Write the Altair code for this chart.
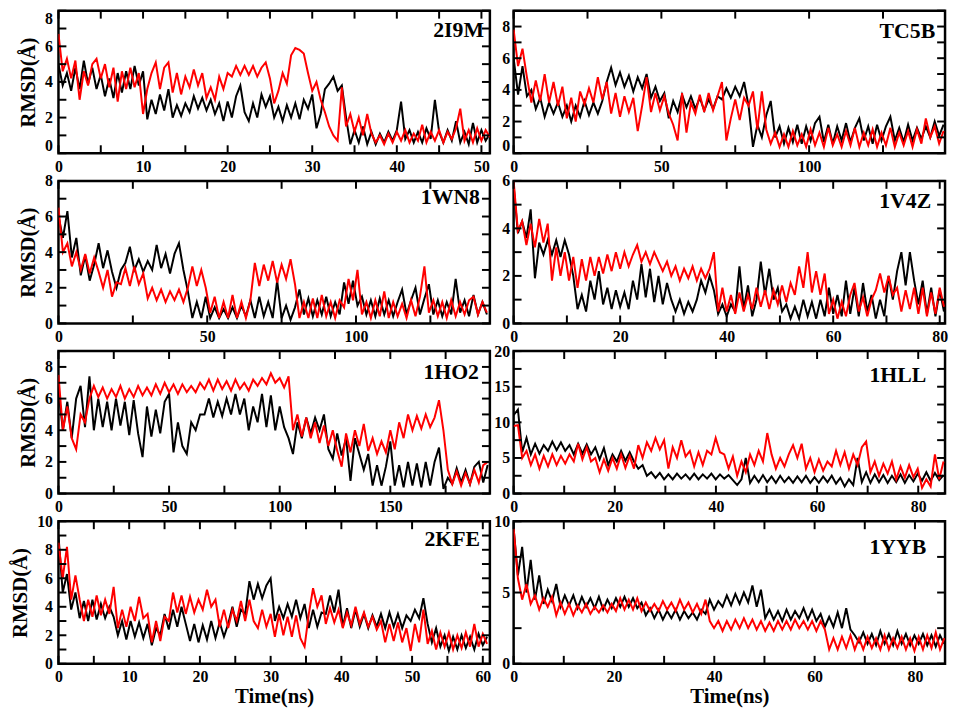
import altair as alt
import numpy as np
import pandas as pd

FONT = "Liberation Serif"

# ---------------- data (RMSD in Angstrom) ----------------
p2i9m_black = [5.0,3.8,4.5,3.5,4.8,3.6,5.2,3.9,4.8,3.6,
               4.4,3.2,4.2,3.1,4.5,3.4,4.6,3.6,4.9,3.8,
               4.6,1.9,3.0,2.2,3.3,2.4,3.6,2.0,2.7,2.1,
               2.8,2.3,3.2,2.5,3.1,2.4,3.0,2.2,2.8,1.8,
               2.9,2.0,3.2,3.8,2.3,1.8,2.8,2.0,3.3,2.6,
               3.2,2.0,2.6,1.8,2.7,2.0,2.8,1.9,3.0,2.5,
               3.3,1.4,2.2,3.6,3.9,4.3,3.5,3.8,2.0,0.5,
               1.3,0.6,1.5,0.5,1.2,0.5,1.1,0.6,1.2,0.7,
               1.3,2.9,0.8,1.3,0.6,1.2,0.6,1.4,0.8,3.0,
               1.2,0.6,1.3,0.7,1.8,0.6,1.2,0.5,1.7,0.6,
               1.3,0.7,1.1]
p2i9m_red = [6.7,4.6,5.3,4.2,5.2,3.0,4.6,3.8,5.0,5.3,
             4.2,5.0,3.7,4.8,2.9,4.6,3.6,4.8,3.7,4.5,
             2.2,3.6,4.5,5.1,3.6,4.8,5.1,3.4,4.5,3.3,
             4.3,3.7,4.7,3.8,4.5,3.1,3.7,3.0,4.3,3.6,
             4.5,4.3,4.9,4.4,4.9,4.4,4.9,4.3,4.8,5.1,
             4.2,2.8,3.5,4.5,3.9,5.5,5.9,5.8,5.6,4.5,
             3.5,4.0,3.0,2.3,1.5,1.0,0.7,3.7,1.5,2.2,
             1.2,2.0,1.0,2.2,1.1,0.6,1.0,0.5,1.1,0.6,
             1.2,0.7,1.3,0.6,1.1,0.7,1.6,0.6,1.2,0.7,
             1.3,0.6,1.2,0.8,1.4,2.5,0.7,1.3,0.6,1.4,
             0.7,1.3,0.9]

tc5b_black = [6.0,3.7,5.5,3.6,4.0,2.8,3.5,2.3,3.2,2.5,
              3.2,2.3,3.0,2.0,3.0,2.3,3.3,2.4,3.2,2.5,
              3.3,4.5,5.4,4.3,5.1,4.2,4.9,3.9,4.8,4.1,
              5.0,3.5,4.2,3.3,3.8,2.2,3.3,2.6,3.7,2.9,
              3.6,2.8,3.5,2.7,3.4,2.8,3.6,3.4,4.1,3.5,
              4.2,3.6,4.5,3.0,0.4,1.8,1.0,2.4,3.3,1.0,
              1.7,0.6,1.6,0.7,1.8,0.6,1.7,0.8,1.9,2.3,
              0.7,1.8,0.6,1.7,0.8,1.9,0.7,1.6,2.2,0.8,
              1.7,0.6,1.8,0.8,1.7,2.3,0.8,1.6,0.7,1.8,
              0.8,1.6,0.9,1.7,1.0,2.0,1.1,1.8]
tc5b_red = [7.8,5.5,6.6,4.8,3.2,4.6,3.3,5.0,3.2,4.5,
            3.0,4.2,2.2,3.5,2.0,3.9,3.1,4.1,3.2,4.8,
            3.4,4.5,2.5,3.8,2.3,3.6,2.6,3.5,1.4,3.0,
            4.8,2.6,3.8,2.7,3.6,2.5,1.8,0.8,3.8,1.3,
            3.2,2.5,3.7,2.6,3.8,2.7,3.6,4.5,0.8,2.2,
            3.4,2.1,3.5,3.0,3.9,1.5,3.9,1.5,0.6,1.3,
            0.4,1.2,0.4,1.4,0.5,1.2,0.4,1.5,0.5,1.3,
            0.4,1.6,0.5,1.2,0.4,1.4,0.5,1.6,0.4,1.3,
            0.5,1.5,0.4,1.3,0.5,1.6,0.4,1.3,0.5,1.4,
            0.4,1.5,0.6,2.2,1.0,1.7,0.6,1.4]

p1wn8_black = [6.0,4.8,6.3,3.7,4.8,2.7,3.8,2.4,3.3,4.5,
               3.1,4.1,2.9,2.0,3.0,3.4,4.3,3.0,3.6,2.9,
               3.5,3.0,4.4,3.1,3.9,2.8,3.9,4.5,3.0,1.8,
               0.3,1.2,0.3,1.5,0.3,0.9,0.3,0.8,0.3,0.9,
               0.3,1.0,0.4,1.3,0.3,1.5,0.4,1.2,0.3,2.4,
               0.3,1.0,0.2,0.9,1.9,0.5,1.4,0.4,1.3,0.5,
               1.5,0.4,1.2,0.5,2.3,1.1,2.4,1.0,1.5,0.5,
               1.3,0.4,1.4,0.5,1.3,0.4,1.2,1.9,0.5,1.3,
               2.0,0.5,1.4,2.2,0.5,1.3,0.4,1.2,0.5,2.5,
               0.6,1.3,0.4,1.6,0.5,1.2,0.5]
p1wn8_red = [6.5,4.0,4.5,3.2,4.0,3.0,3.9,2.8,3.7,2.9,
             2.0,3.0,1.5,2.3,2.2,3.1,2.1,3.2,2.2,2.8,
             1.4,2.0,1.3,1.9,1.2,1.8,1.3,1.9,1.2,2.0,
             3.2,2.1,3.0,2.0,0.6,1.5,0.3,1.2,0.3,1.6,
             0.3,1.2,0.3,1.3,3.4,2.1,3.3,2.4,3.5,2.3,
             3.3,2.5,3.6,2.2,0.3,1.2,0.3,1.4,0.3,1.6,
             0.4,1.2,0.3,1.3,0.9,2.5,1.3,3.0,0.5,1.2,
             0.3,1.3,0.4,1.8,0.3,1.2,0.4,1.1,0.3,1.3,
             0.4,1.5,3.2,0.6,1.3,0.4,1.2,0.3,1.3,0.4,
             1.2,0.5,1.3,1.5,0.5,1.2,0.6]

p1v4z_black = [5.8,3.8,4.3,3.6,4.8,1.9,3.4,2.9,3.5,2.9,
               3.5,2.8,3.5,2.9,2.0,0.6,1.2,0.5,1.8,1.0,
               2.2,0.8,1.5,0.6,1.4,0.7,1.3,0.6,1.8,1.0,
               2.5,1.1,2.3,0.9,2.0,0.8,1.7,1.0,0.5,1.0,
               0.4,0.9,0.5,1.0,1.8,1.3,2.0,1.4,0.4,0.8,
               0.3,0.8,0.5,2.4,0.6,1.6,0.3,1.0,2.6,1.2,
               2.3,1.0,1.5,0.5,0.8,0.2,0.7,0.2,1.0,0.3,
               0.9,0.2,1.0,0.3,1.5,0.4,1.2,0.3,1.8,0.4,
               1.5,0.3,1.7,0.5,1.2,0.2,1.0,0.3,2.0,1.0,
               2.2,3.0,1.6,3.0,1.8,0.8,1.8,0.4,1.5,0.3,
               1.4,0.5]
p1v4z_red = [6.0,3.9,4.3,3.3,4.2,3.2,4.4,3.4,4.2,1.8,
             3.2,2.0,3.0,1.8,2.8,1.5,2.7,1.8,2.8,2.0,
             2.8,2.1,2.9,2.2,3.0,2.3,3.0,2.4,2.9,3.3,
             2.6,3.0,2.5,3.0,2.6,2.2,2.6,2.0,2.4,1.8,
             2.3,1.9,2.4,1.8,2.3,1.9,2.3,3.0,0.5,1.5,
             0.5,1.2,0.4,1.3,0.5,1.2,0.6,1.5,0.7,1.4,
             0.6,1.4,0.8,1.6,0.9,1.7,1.2,2.4,1.5,3.0,
             1.3,2.2,1.2,2.1,0.4,1.0,0.2,0.9,0.3,1.2,
             1.7,0.5,1.1,0.3,1.0,1.4,2.1,1.3,2.0,1.2,
             1.5,0.5,1.4,0.6,1.5,0.4,1.5,0.3,1.3,0.4,
             1.5,0.7]

p1ho2_black = [6.5,4.0,5.8,3.5,6.0,6.8,4.2,7.4,4.0,6.0,
               4.2,5.8,4.0,6.0,4.3,5.8,3.7,5.9,3.8,2.3,
               5.5,3.6,5.3,3.8,5.8,6.3,2.6,4.5,3.0,2.5,
               4.5,4.0,5.0,5.0,6.0,4.8,5.8,4.9,6.0,5.0,
               6.3,5.0,6.0,4.0,5.5,4.5,6.3,4.2,6.2,4.0,
               5.5,4.2,3.5,2.5,4.5,3.5,4.8,3.8,4.8,4.0,
               5.0,2.8,2.2,3.8,2.4,3.5,0.8,3.5,2.5,1.5,
               2.5,0.5,1.8,0.5,1.7,3.3,0.5,1.8,0.4,2.0,
               0.5,1.9,0.4,2.0,0.5,2.0,2.9,0.3,1.0,0.6,
               1.6,0.7,1.5,0.6,1.7,2.0,0.7,1.8]
p1ho2_red = [7.5,4.0,5.5,3.5,2.8,5.0,4.5,6.0,6.8,6.1,
             6.7,6.0,6.6,6.1,6.8,6.0,6.6,6.1,6.8,6.2,
             6.7,6.2,6.9,6.3,7.0,6.4,6.9,6.3,6.9,6.4,
             6.8,6.4,7.0,6.6,7.2,6.5,7.2,6.6,7.1,6.5,
             7.2,6.6,7.0,6.5,7.2,6.8,7.3,6.9,7.6,7.0,
             7.3,6.7,7.4,4.0,5.0,3.6,4.8,3.5,4.5,3.2,
             4.3,3.0,4.0,2.7,1.7,3.8,2.6,4.0,3.0,4.4,
             2.7,3.5,2.5,3.3,2.6,4.0,2.8,4.5,3.5,5.0,
             4.0,4.9,4.1,5.0,4.2,4.8,5.9,4.0,1.5,0.6,
             1.4,0.5,1.3,0.6,1.5,0.7,1.8,2.0]

p1hll_black = [11.0,11.8,5.8,7.8,5.5,7.0,5.6,6.8,6.0,7.3,
               6.1,7.2,6.0,6.8,5.5,7.0,5.6,6.9,5.5,6.5,
               4.8,6.4,4.0,5.5,4.5,6.0,4.6,5.8,4.5,3.5,
               4.0,2.5,3.0,2.2,2.9,2.0,2.7,2.0,2.8,2.1,
               2.7,2.0,2.8,2.0,2.7,2.1,2.8,2.0,2.7,2.1,
               2.6,1.9,1.2,2.0,5.0,1.5,2.5,1.6,2.6,1.6,
               2.4,1.5,2.5,1.6,2.3,1.5,2.4,1.6,2.5,1.5,
               2.3,1.5,2.4,1.6,2.5,1.4,2.2,1.0,2.0,1.2,
               5.0,1.6,3.0,1.5,2.7,1.6,2.6,1.5,2.5,1.6,
               2.7,1.5,2.6,1.7,2.8,1.8,3.0,1.8,2.9,1.9,
               2.6]
p1hll_red = [9.5,9.6,5.0,6.0,4.0,5.5,3.5,5.3,3.8,5.5,
             4.0,5.3,4.2,5.5,4.5,7.0,4.8,6.5,4.5,5.0,
             3.0,4.8,3.2,5.0,3.5,5.5,3.6,5.3,3.5,6.8,
             5.0,7.2,6.0,7.8,6.2,7.5,3.5,6.5,5.0,7.5,
             5.2,6.0,3.8,5.8,4.0,6.0,5.5,7.8,5.8,5.5,
             3.5,5.2,2.5,4.5,3.0,5.5,4.0,6.0,4.5,8.5,
             5.5,3.5,5.0,3.8,5.5,6.8,5.0,7.0,3.5,5.0,
             3.0,4.8,3.2,4.5,3.8,6.0,4.0,5.8,3.5,5.5,
             4.0,6.5,7.3,3.0,4.5,2.5,4.2,2.8,4.5,2.0,
             3.8,2.2,4.0,2.3,3.5,0.8,2.0,1.0,5.5,2.0,
             4.5]

p2kfe_black = [9.0,5.0,6.3,3.8,5.0,3.2,4.4,3.0,4.5,3.1,
               4.2,3.2,4.0,3.3,2.0,3.0,1.7,3.0,1.9,2.9,
               1.8,2.8,1.3,2.5,2.0,3.5,2.4,3.8,2.6,4.0,
               2.8,1.6,2.8,1.5,2.7,1.7,3.0,1.8,2.9,1.9,
               2.8,4.0,2.6,3.8,3.5,5.8,4.5,5.6,4.6,5.5,
               6.0,3.0,4.0,3.2,4.2,3.3,4.5,3.2,4.2,2.5,
               3.8,2.6,3.6,3.5,4.8,3.6,5.2,2.6,3.9,2.5,
               3.8,2.6,3.5,2.5,3.4,2.6,3.5,2.5,3.6,2.6,
               3.5,2.5,3.4,3.0,3.8,3.2,4.6,2.8,1.5,2.5,
               1.2,2.0,0.9,1.9,1.0,2.0,1.1,1.9,1.0,2.1,
               1.3,1.9]
p2kfe_red = [8.5,6.0,8.2,4.5,6.2,4.5,3.0,4.5,3.3,4.8,
             3.4,4.5,3.5,5.4,2.5,3.8,2.6,4.0,3.0,4.7,
             3.2,3.5,1.5,3.0,1.6,3.3,3.0,5.0,3.6,4.8,
             3.5,4.7,3.6,4.5,3.8,5.2,4.0,4.5,2.6,3.8,
             2.5,3.8,3.0,4.4,3.0,4.5,3.0,2.5,3.8,2.6,
             3.5,1.9,3.5,2.0,3.3,1.9,3.4,1.8,1.2,3.5,
             5.3,4.0,4.8,2.8,3.9,2.9,3.8,2.5,3.6,2.7,
             4.0,2.8,3.6,2.6,3.3,2.4,3.0,1.5,2.8,1.6,
             2.9,1.5,2.5,0.9,2.8,1.5,3.8,1.4,2.3,1.0,
             2.2,1.2,2.2,1.0,2.0,1.1,2.2,1.2,2.8,1.2,
             2.1,1.4]

p1yyb_black = [9.5,6.2,8.2,5.0,7.3,4.5,6.2,4.2,5.2,4.4,
               5.6,4.0,4.8,4.1,4.8,3.9,4.7,4.0,4.6,3.9,
               4.7,3.8,4.5,3.9,4.6,4.0,4.7,4.0,4.6,3.9,
               4.3,3.4,3.9,3.2,3.8,3.1,3.7,3.2,3.8,3.1,
               3.7,3.2,3.6,3.1,3.8,3.5,4.5,3.8,4.4,4.0,
               4.8,4.1,4.9,4.2,5.0,4.3,5.5,4.0,5.2,3.2,
               3.8,3.1,3.7,3.0,3.8,3.1,3.7,3.2,3.9,3.1,
               3.8,3.0,3.5,2.6,3.3,2.6,3.6,2.5,3.9,2.4,
               2.0,1.5,2.2,1.4,2.1,1.3,2.3,1.4,2.1,1.3,
               2.3,1.4,2.1,1.3,2.0,1.4,2.1,1.3,2.0,1.2,
               2.0,1.4]
p1yyb_red = [9.5,6.0,4.5,5.6,4.2,4.8,3.8,4.6,4.0,4.7,
             3.4,4.3,3.5,4.2,3.4,4.1,3.6,4.2,3.5,4.0,
             3.6,4.1,3.6,4.2,3.7,4.6,3.8,4.5,3.8,4.6,
             3.7,4.3,3.7,4.2,3.7,4.4,3.8,4.3,3.7,4.5,
             3.8,4.3,3.6,4.2,3.5,4.5,3.0,2.5,3.0,2.3,
             3.0,2.4,3.1,2.5,3.2,2.5,3.1,2.4,3.0,2.3,
             2.9,2.3,3.0,2.4,3.0,2.4,3.1,2.5,3.0,2.4,
             3.0,2.3,3.0,2.4,1.0,1.8,1.0,1.9,1.1,2.0,
             1.0,1.8,1.0,1.9,1.1,1.8,1.0,2.0,1.0,1.8,
             1.1,1.9,1.0,1.8,0.9,1.9,1.0,2.0,1.1,2.2,
             1.0,1.8]

# panel names, sampling step (ns), axis ranges and tick labels
names = ["2I9M", "TC5B", "1WN8", "1V4Z", "1HO2", "1HLL", "2KFE", "1YYB"]
steps = [0.5, 1.5, 1.5, 0.8, 2.0, 0.85, 0.6, 0.85]
xmaxs = [51, 146, 145, 81, 195, 85.3, 61, 86]
ymaxs = [8, 9, 8, 6, 9, 20, 10, 10]
xlabels = [[0, 10, 20, 30, 40, 50], [0, 50, 100], [0, 50, 100], [0, 20, 40, 60, 80],
           [0, 50, 100, 150], [0, 20, 40, 60, 80], [0, 10, 20, 30, 40, 50, 60], [0, 20, 40, 60, 80]]
xminor = [5, 25, 25, 10, 25, 10, 5, 10]
ylabels = [[0, 2, 4, 6, 8], [0, 2, 4, 6, 8], [0, 2, 4, 6, 8], [0, 2, 4, 6],
           [0, 2, 4, 6, 8], [0, 5, 10, 15, 20], [0, 2, 4, 6, 8, 10], [0, 5, 10]]
yminor = [1, 1, 1, 1, 1, 2.5, 1, 2.5]
blacks = [p2i9m_black, tc5b_black, p1wn8_black, p1v4z_black, p1ho2_black, p1hll_black, p2kfe_black, p1yyb_black]
reds = [p2i9m_red, tc5b_red, p1wn8_red, p1v4z_red, p1ho2_red, p1hll_red, p2kfe_red, p1yyb_red]

# layout (styling)
W = 436
H = 144
TICK = 8
NAME_DX = [6, 10, 10, 14, 11, 19, 10, 19]
NAME_Y = [27, 28, 23, 27, 28, 31, 25, 33]


def panel(i):
    row, col = divmod(i, 2)
    xs = alt.Scale(domain=[0, xmaxs[i]], nice=False, zero=False)
    ys = alt.Scale(domain=[0, ymaxs[i]], nice=False, zero=False)
    common = dict(ticks=False, tickSize=0, domain=False, grid=False,
                  labelFont=FONT, labelFontSize=16, labelFontWeight="bold", labelColor="black",
                  format="d", titleFont=FONT, titleFontSize=21, titleFontWeight="bold",
                  titleColor="black")
    xaxis = alt.Axis(values=xlabels[i], labelFlush=False, labelPadding=5, labelAngle=0,
                     titlePadding=1, title=("Time(ns)" if row == 3 else None), **common)
    yaxis = alt.Axis(values=ylabels[i], labelFlush=(row == 0), labelPadding=(6 if col == 0 else 4),
                     titlePadding=6, title=("RMSD(Å)" if col == 0 else None), **common)
    X = alt.X("t:Q", scale=xs, axis=xaxis)
    Y = alt.Y("v:Q", scale=ys, axis=yaxis)

    def series(vals, color):
        df = pd.DataFrame({"t": np.round(np.arange(len(vals)) * steps[i], 4), "v": vals})
        return alt.Chart(df).mark_line(color=color, strokeWidth=2, clip=True).encode(x=X, y=Y)

    xt = pd.DataFrame({"t": np.arange(0, xmaxs[i] + 1e-9, xminor[i])})
    yt = pd.DataFrame({"v": np.arange(0, ymaxs[i] + 1e-9, yminor[i])})
    tk = dict(color="black", thickness=2, size=TICK, opacity=1)
    t_bottom = alt.Chart(xt).mark_tick(**tk).encode(x=X, y=alt.value(H - TICK / 2))
    t_top = alt.Chart(xt).mark_tick(**tk).encode(x=X, y=alt.value(TICK / 2))
    t_left = alt.Chart(yt).mark_tick(**tk).encode(y=Y, x=alt.value(TICK / 2))
    t_right = alt.Chart(yt).mark_tick(**tk).encode(y=Y, x=alt.value(W - TICK / 2))

    label = alt.Chart(pd.DataFrame({"n": [names[i]]})).mark_text(
        align="right", baseline="alphabetic", font=FONT, fontSize=22, fontWeight="bold",
        color="black").encode(text="n:N", x=alt.value(W - NAME_DX[i]), y=alt.value(NAME_Y[i]))

    return alt.layer(series(blacks[i], "#000000"), series(reds[i], "#ff0000"),
                     t_bottom, t_top, t_left, t_right, label).properties(width=W, height=H)


chart = alt.concat(*[panel(i) for i in range(8)], columns=2,
                   spacing=alt.RowColnumber(row=28, column=24), bounds="flush").properties(
    padding={"left": 0, "top": -4, "right": 0, "bottom": 0}, background="white"
).configure_view(stroke="black", strokeWidth=2.5)

chart.save("out.html", embed_options={"renderer": "svg", "actions": False})
